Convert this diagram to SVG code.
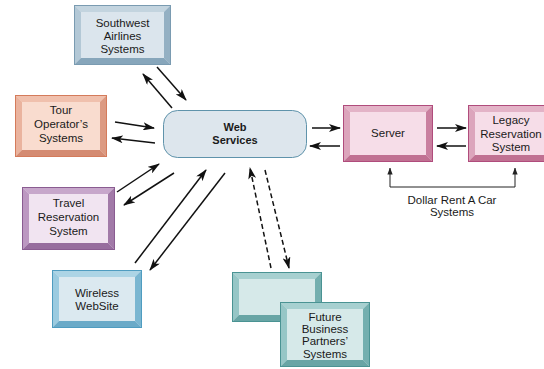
<svg xmlns="http://www.w3.org/2000/svg" width="544" height="369" viewBox="0 0 544 369">
<defs>
<style>
text{font-family:"Liberation Sans",Arial,sans-serif;font-size:11.5px;fill:#1a1a1a;text-anchor:middle}
.bold{font-weight:bold;font-size:11px}
.o{fill:none;stroke-width:1}
.sw .f{fill:#dbe5ed}.sw .t{fill:#c3d4df}.sw .l{fill:#b3c8d6}.sw .r{fill:#94b0c3}.sw .b{fill:#87a6bb}.sw .o{stroke:#7a9bb1}
.tr .f{fill:#f9dccf}.tr .t{fill:#f0c0ad}.tr .l{fill:#eab39e}.tr .r{fill:#dc9a82}.tr .b{fill:#d48b72}.tr .o{stroke:#d47b5b}
.pk .f{fill:#f6dde8}.pk .t{fill:#e3b3c7}.pk .l{fill:#dca5bc}.pk .r{fill:#c97f9f}.pk .b{fill:#c07192}.pk .o{stroke:#b04c7c}
.pu .f{fill:#f1e4f1}.pu .t{fill:#c7a7cb}.pu .l{fill:#bc98c1}.pu .r{fill:#a27aa8}.pu .b{fill:#976d9e}.pu .o{stroke:#8a5c91}
.wl .f{fill:#dbe9f0}.wl .t{fill:#acd4e5}.wl .l{fill:#9bcbe0}.wl .r{fill:#7ab6d1}.wl .b{fill:#6aaac8}.wl .o{stroke:#4f9cc0}
.tl .f{fill:#d6e9e9}.tl .t{fill:#a7d0d0}.tl .l{fill:#96c6c6}.tl .r{fill:#74afaf}.tl .b{fill:#68a5a5}.tl .o{stroke:#4a9393}
.c{fill:none;stroke:#111;stroke-width:1.5;marker-end:url(#ah)}
.d{stroke-dasharray:5 3}
.br{fill:none;stroke:#222;stroke-width:1}
</style>
<marker id="ah" viewBox="0 0 12 8" markerWidth="12" markerHeight="8" refX="11" refY="4" orient="auto" markerUnits="userSpaceOnUse">
<path d="M0,0 L12,4 L0,8 L3,4 z" fill="#111"/>
</marker>
<marker id="sh" viewBox="0 0 8 6" markerWidth="7" markerHeight="6" refX="7.5" refY="3" orient="auto" markerUnits="userSpaceOnUse">
<path d="M0,0 L8,3 L0,6 z" fill="#222"/>
</marker>
</defs>

<g id="southwest" class="sw">
<rect class="f" x="74" y="5" width="97" height="60"/>
<polygon class="t" points="74,5 171,5 164,12 81,12"/>
<polygon class="l" points="74,5 81,12 81,58 74,65"/>
<polygon class="r" points="171,5 171,65 164,58 164,12"/>
<polygon class="b" points="74,65 81,58 164,58 171,65"/>
<rect class="o" x="74.5" y="5.5" width="96" height="59"/>
<text x="122.5" y="27">Southwest</text>
<text x="122.5" y="40">Airlines</text>
<text x="122.5" y="53">Systems</text>
</g>

<g id="tour" class="tr">
<rect class="f" x="15" y="95" width="92" height="62"/>
<polygon class="t" points="15,95 107,95 100,102 22,102"/>
<polygon class="l" points="15,95 22,102 22,150 15,157"/>
<polygon class="r" points="107,95 107,157 100,150 100,102"/>
<polygon class="b" points="15,157 22,150 100,150 107,157"/>
<rect class="o" x="15.5" y="95.5" width="91" height="61"/>
<text x="61" y="114">Tour</text>
<text x="61" y="128">Operator’s</text>
<text x="61" y="142">Systems</text>
</g>

<g id="web">
<rect x="163.5" y="110.5" width="143" height="47" rx="14" ry="14" fill="#dde6ed" stroke="#5f93ab" stroke-width="1"/>
<text class="bold" x="235" y="131">Web</text>
<text class="bold" x="235" y="144">Services</text>
</g>

<g id="server" class="pk">
<rect class="f" x="343" y="105" width="90" height="57"/>
<polygon class="t" points="343,105 433,105 426,112 350,112"/>
<polygon class="l" points="343,105 350,112 350,155 343,162"/>
<polygon class="r" points="433,105 433,162 426,155 426,112"/>
<polygon class="b" points="343,162 350,155 426,155 433,162"/>
<rect class="o" x="343.5" y="105.5" width="89" height="56"/>
<text x="388" y="137">Server</text>
</g>

<g id="legacy" class="pk">
<rect class="f" x="468" y="105" width="92" height="57"/>
<polygon class="t" points="468,105 560,105 553,112 475,112"/>
<polygon class="l" points="468,105 475,112 475,155 468,162"/>
<polygon class="r" points="560,105 560,162 553,155 553,112"/>
<polygon class="b" points="468,162 475,155 553,155 560,162"/>
<rect class="o" x="468.5" y="105.5" width="91" height="56"/>
<text x="511" y="124">Legacy</text>
<text x="511" y="137.5">Reservation</text>
<text x="511" y="151">System</text>
</g>

<g id="travel" class="pu">
<rect class="f" x="22" y="187" width="93" height="63"/>
<polygon class="t" points="22,187 115,187 108,194 29,194"/>
<polygon class="l" points="22,187 29,194 29,243 22,250"/>
<polygon class="r" points="115,187 115,250 108,243 108,194"/>
<polygon class="b" points="22,250 29,243 108,243 115,250"/>
<rect class="o" x="22.5" y="187.5" width="92" height="62"/>
<text x="68.5" y="207">Travel</text>
<text x="68.5" y="221">Reservation</text>
<text x="68.5" y="235">System</text>
</g>

<g id="wireless" class="wl">
<rect class="f" x="52" y="270" width="90" height="58"/>
<polygon class="t" points="52,270 142,270 135,277 59,277"/>
<polygon class="l" points="52,270 59,277 59,321 52,328"/>
<polygon class="r" points="142,270 142,328 135,321 135,277"/>
<polygon class="b" points="52,328 59,321 135,321 142,328"/>
<rect class="o" x="52.5" y="270.5" width="89" height="57"/>
<text x="97" y="297">Wireless</text>
<text x="97" y="310">WebSite</text>
</g>

<g id="future-back" class="tl">
<rect class="f" x="232" y="272" width="90" height="50"/>
<polygon class="t" points="232,272 322,272 315,279 239,279"/>
<polygon class="l" points="232,272 239,279 239,315 232,322"/>
<polygon class="r" points="322,272 322,322 315,315 315,279"/>
<polygon class="b" points="232,322 239,315 315,315 322,322"/>
<rect class="o" x="232.5" y="272.5" width="89" height="49"/>
</g>

<g id="future" class="tl">
<rect class="f" x="280" y="302" width="90" height="65"/>
<polygon class="t" points="280,302 370,302 363,309 287,309"/>
<polygon class="l" points="280,302 287,309 287,360 280,367"/>
<polygon class="r" points="370,302 370,367 363,360 363,309"/>
<polygon class="b" points="280,367 287,360 363,360 370,367"/>
<rect class="o" x="280.5" y="302.5" width="89" height="64"/>
<text x="325" y="321">Future</text>
<text x="325" y="333">Business</text>
<text x="325" y="345">Partners’</text>
<text x="325" y="357.5">Systems</text>
</g>

<g id="connectors">
<line class="c" x1="157" y1="67" x2="186" y2="100"/>
<line class="c" x1="172" y1="108" x2="143" y2="74"/>
<line class="c" x1="115" y1="122" x2="154" y2="128"/>
<line class="c" x1="155" y1="143" x2="112" y2="138"/>
<line class="c" x1="312" y1="128" x2="340" y2="128"/>
<line class="c" x1="340" y1="146" x2="310" y2="146"/>
<line class="c" x1="437" y1="128" x2="466" y2="128"/>
<line class="c" x1="466" y1="146" x2="437" y2="146"/>
<line class="c" x1="117" y1="192" x2="159" y2="164"/>
<line class="c" x1="174" y1="173" x2="124" y2="205"/>
<line class="c" x1="135" y1="263" x2="206" y2="170"/>
<line class="c" x1="225" y1="173" x2="150" y2="270"/>
<line class="c d" x1="271" y1="268" x2="250" y2="168"/>
<line class="c d" x1="265" y1="170" x2="289" y2="268"/>
<polyline class="br" points="390,187 515,187"/>
<line class="br" x1="390" y1="187" x2="390" y2="168" marker-end="url(#sh)"/>
<line class="br" x1="515" y1="187" x2="515" y2="168" marker-end="url(#sh)"/>
<text x="452" y="204">Dollar Rent A Car</text>
<text x="452" y="216">Systems</text>
</g>
</svg>
